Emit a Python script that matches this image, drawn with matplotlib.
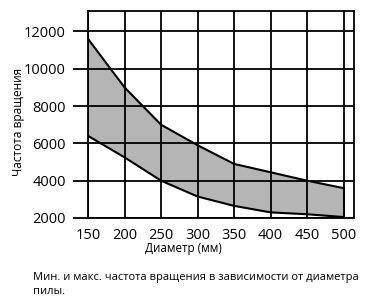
import matplotlib
matplotlib.use("Agg")
import matplotlib.pyplot as plt

plt.rcParams['font.family'] = ['Open Sans', 'DejaVu Sans']

# диаметр пилы и частота вращения (мин / макс)
diam = [150, 200, 250, 300, 350, 400, 450, 500]
rpm_max = [11600, 9000, 7000, 5900, 4900, 4450, 4000, 3600]
rpm_min = [6400, 5250, 4000, 3150, 2650, 2300, 2200, 2050]

xticks = [150, 200, 250, 300, 350, 400, 450, 500]
yticks = [2000, 4000, 6000, 8000, 10000, 12000]

fig = plt.figure(figsize=(3.7, 3.04), dpi=100)
ax = fig.add_axes([0.238, 0.283, 0.72, 0.681])

ax.fill_between(diam, rpm_min, rpm_max, color='#b5b5b5', zorder=1, linewidth=0)
ax.plot(diam, rpm_max, color='black', lw=1.5, zorder=3)
ax.plot(diam, rpm_min, color='black', lw=1.5, zorder=3)
ax.plot([diam[-1], diam[-1]], [rpm_min[-1], rpm_max[-1]], color='black', lw=1.5, zorder=3)

ax.set_xlim(150, 515)
ax.set_ylim(2000, 13100)
ax.set_xticks(xticks)
ax.set_yticks(yticks)
ax.grid(True, color='black', lw=1.3, zorder=2)
ax.set_axisbelow(False)
for s in ax.spines.values():
    s.set_linewidth(1.3)

ax.tick_params(axis='y', length=11, width=1.3, pad=5, labelsize=10.5)
ax.tick_params(axis='x', length=0, pad=7, labelsize=10.5)

fig.text(0.497, 0.181, 'Диаметр (мм)', fontsize=8.4, ha='center', va='center')
fig.text(0.051, 0.599, 'Частота вращения', rotation=90, fontsize=8.6, ha='center', va='center')

fig.text(0.09, 0.064, 'Мин. и макс. частота вращения в зависимости от диаметра\nпилы.',
         fontsize=8, ha='left', va='center', linespacing=1.45)

fig.savefig('out.png', dpi=100)
